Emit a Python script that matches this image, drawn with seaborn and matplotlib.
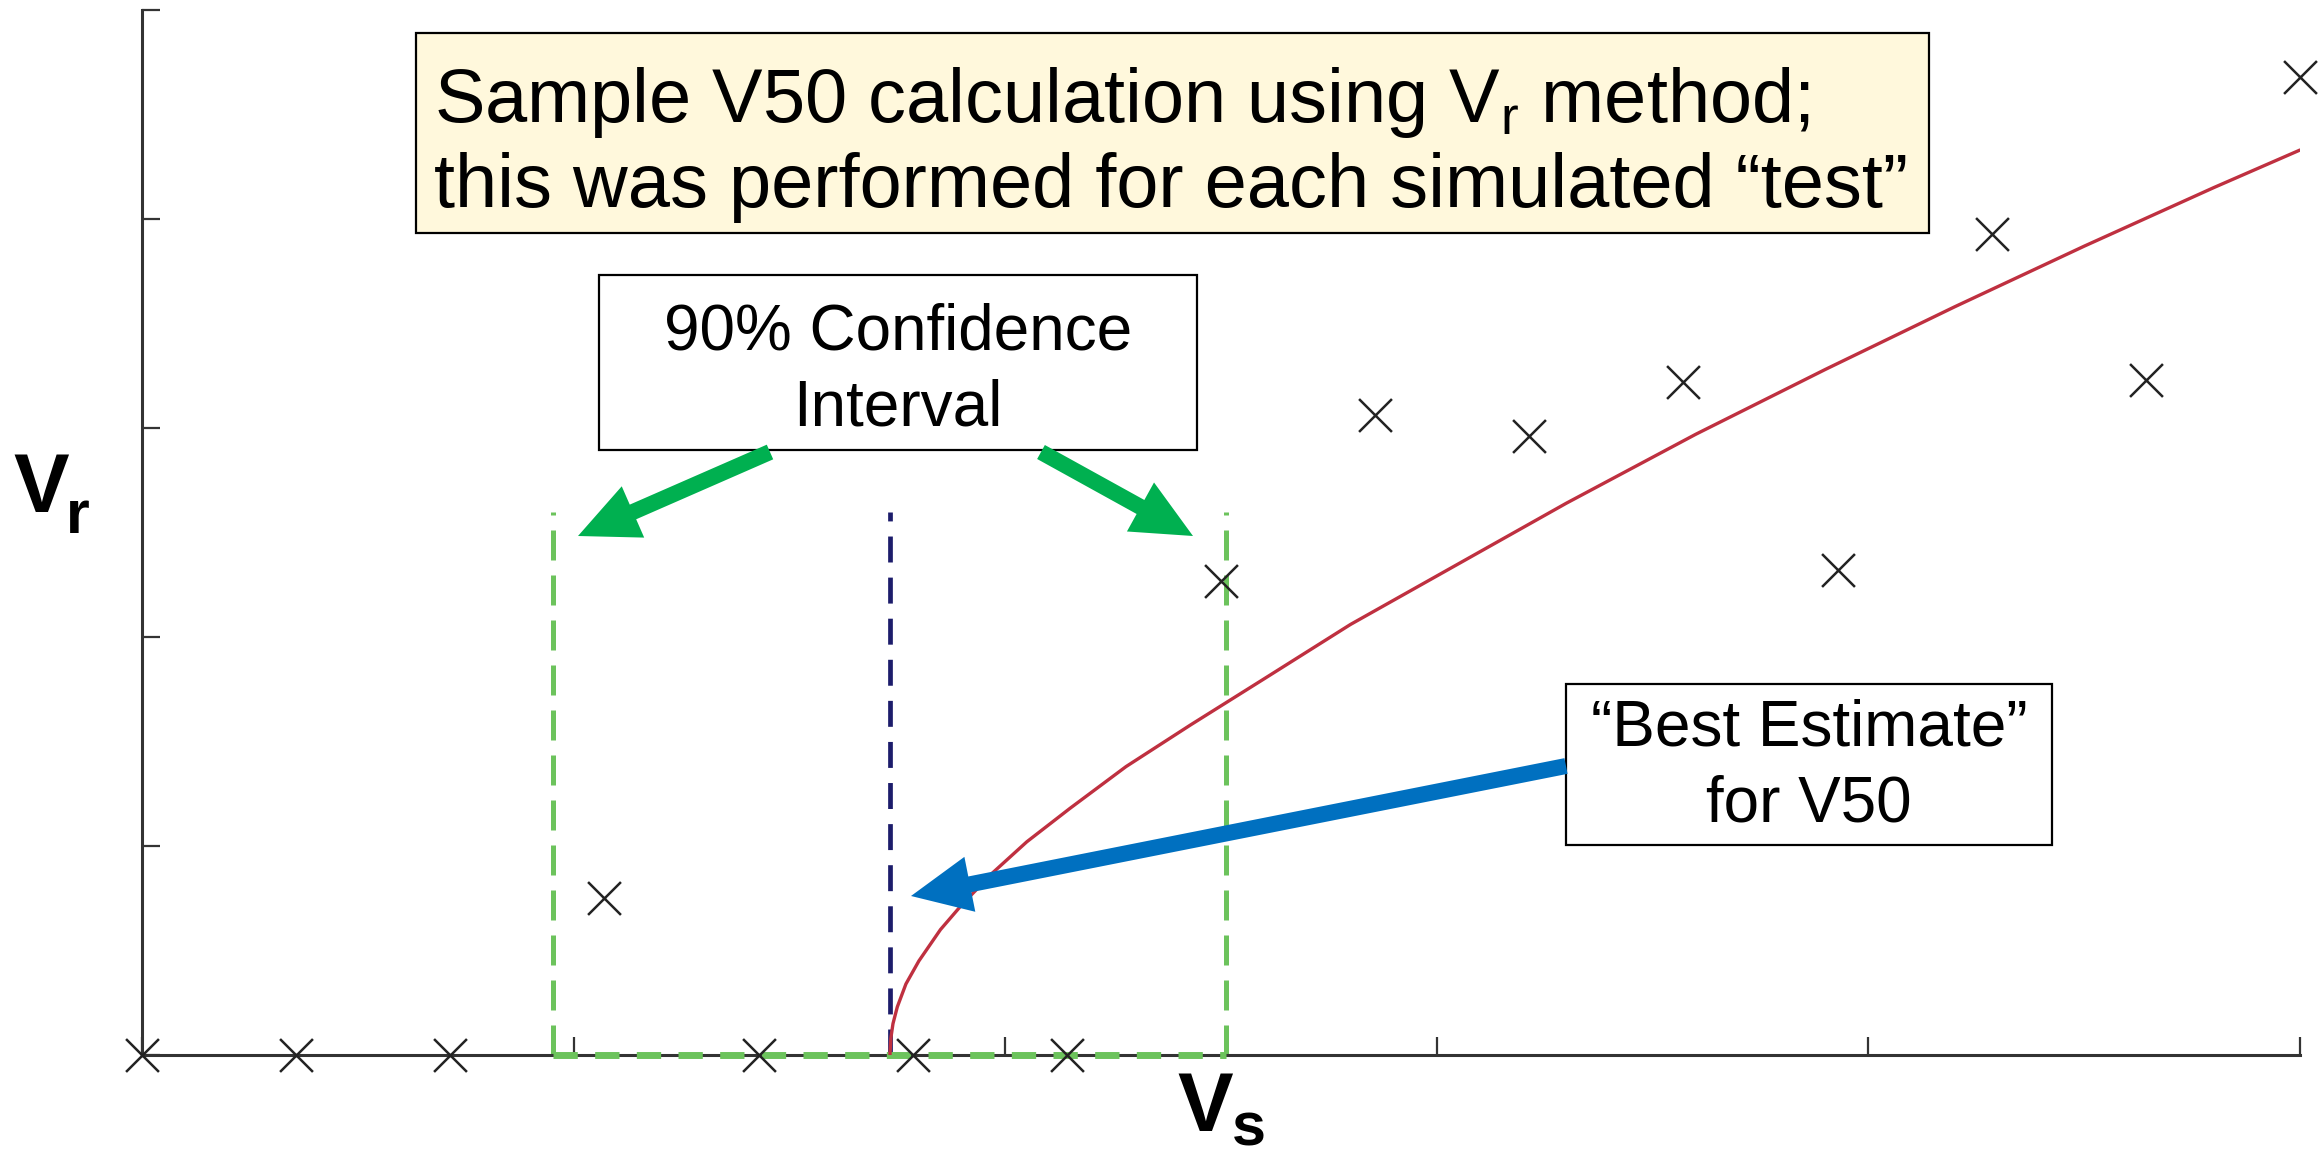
import numpy as np
import matplotlib
matplotlib.use("Agg")
import matplotlib.pyplot as plt
import seaborn as sns
from matplotlib.patches import Rectangle, FancyArrow

# simulated test shots: striking velocity vs residual velocity
vs_points = [0.0, 0.357, 0.714, 1.071, 1.429, 1.786, 2.143, 2.5, 2.857,
             3.214, 3.571, 3.929, 4.286, 4.643, 5.0]
vr_points = [0.0, 0.0, 0.0, 0.75, 0.0, 0.0, 0.0, 2.27, 3.06,
             2.96, 3.22, 2.32, 3.93, 3.23, 4.68]

# fitted Vr curve
fit_vs = [1.733, 1.735, 1.74, 1.75, 1.77, 1.80, 1.85, 1.90, 1.97, 2.05,
          2.15, 2.28, 2.43, 2.60, 2.80, 3.05, 3.30, 3.60, 3.90, 4.20,
          4.50, 4.80, 5.00]
fit_vr = [0.00, 0.08, 0.15, 0.23, 0.34, 0.45, 0.60, 0.72, 0.87, 1.02,
          1.18, 1.38, 1.58, 1.80, 2.06, 2.35, 2.64, 2.97, 3.28, 3.58,
          3.87, 4.15, 4.33]

v50_best = 1.733
ci_low = 0.952
ci_high = 2.512
line_top = 2.6

axis_ticks = [0, 1, 2, 3, 4, 5]

W, H = 2323, 1159

sns.set_theme(style="white")
plt.rcParams["font.family"] = ["Liberation Sans", "DejaVu Sans"]
plt.rcParams["mathtext.fontset"] = "custom"
plt.rcParams["mathtext.rm"] = "Liberation Sans"
plt.rcParams["text.color"] = "black"

fig = plt.figure(figsize=(W / 100, H / 100), dpi=100)
fig.patch.set_facecolor("white")

ax = fig.add_axes([142 / W, 1 - 1055 / H, 2158 / W, 1045 / H])
ax.set_xlim(0, 5)
ax.set_ylim(0, 5)

# confidence interval and best estimate lines
ax.plot([ci_low, ci_low], [0, line_top], color="#6cc35c", lw=3.6,
        dashes=(6.0, 3.0), zorder=2)
ax.plot([ci_high, ci_high], [0, line_top], color="#6cc35c", lw=3.6,
        dashes=(6.0, 3.0), zorder=2)
ax.plot([ci_low, ci_high], [0, 0], color="#6cc35c", lw=5,
        dashes=(3.5, 2.5), zorder=3, clip_on=False)
ax.plot([v50_best, v50_best], [0, line_top], color="#1c1c6b", lw=3.4,
        dashes=(5.5, 3.2), zorder=2)

sns.lineplot(x=fit_vs, y=fit_vr, ax=ax, color="#bf3040", lw=2.4,
             sort=False, estimator=None, zorder=4)

sns.scatterplot(x=vs_points, y=vr_points, ax=ax, marker="x", s=560,
                color="#222222", linewidth=1.8, zorder=5, clip_on=False)

for side in ["top", "right"]:
    ax.spines[side].set_visible(False)
for side in ["left", "bottom"]:
    ax.spines[side].set_color("#333333")
    ax.spines[side].set_linewidth(2.2)
ax.set_xticks(axis_ticks)
ax.set_yticks(axis_ticks)
ax.tick_params(direction="in", length=13, width=1.6, color="#333333",
               labelbottom=False, labelleft=False, bottom=True, left=True)
ax.set_xlabel("")
ax.set_ylabel("")

# overlay in pixel coordinates for callouts
ov = fig.add_axes([0, 0, 1, 1], zorder=10)
ov.set_xlim(0, W)
ov.set_ylim(H, 0)
ov.axis("off")

ov.add_patch(Rectangle((416, 33), 1513, 200, fc="#fff8dc", ec="black", lw=1.6))
ov.text(434, 122, "Sample V50 calculation using V$_{\\rm r}$ method;",
        fontsize=54.5, va="baseline", ha="left", color="black")
ov.text(434, 207, "this was performed for each simulated \u201ctest\u201d",
        fontsize=54.5, va="baseline", ha="left", color="black")

ov.add_patch(Rectangle((599, 275), 598, 175, fc="white", ec="black", lw=1.6))
ov.text(898, 350, "90% Confidence", fontsize=46, va="baseline", ha="center",
        color="black")
ov.text(898, 425, "Interval", fontsize=46, va="baseline", ha="center",
        color="black")

ov.add_patch(Rectangle((1566, 684), 486, 161, fc="white", ec="black", lw=1.6))
ov.text(1809, 745, "\u201cBest Estimate\u201d", fontsize=46, va="baseline",
        ha="center", color="black")
ov.text(1809, 822, "for V50", fontsize=46, va="baseline", ha="center",
        color="black")

green = "#00b050"
blue = "#0070c0"
for (x0, y0, x1, y1) in [(770, 452, 578, 536), (1041, 452, 1193, 536)]:
    ov.add_patch(FancyArrow(x0, y0, x1 - x0, y1 - y0, width=16, head_width=56,
                            head_length=60, length_includes_head=True,
                            color=green, lw=0))
ov.add_patch(FancyArrow(1566, 766, 911 - 1566, 896 - 766, width=16,
                        head_width=56, head_length=60,
                        length_includes_head=True, color=blue, lw=0))

# axis labels
ov.text(13, 512, "V", fontsize=60, fontweight="bold", va="baseline", ha="left",
        color="black")
ov.text(66, 533, "r", fontsize=44, fontweight="bold", va="baseline", ha="left",
        color="black")
ov.text(1177, 1131, "V", fontsize=60, fontweight="bold", va="baseline",
        ha="left", color="black")
ov.text(1232, 1146, "s", fontsize=44, fontweight="bold", va="baseline",
        ha="left", color="black")

plt.savefig("out.png", dpi=100)
plt.close()
